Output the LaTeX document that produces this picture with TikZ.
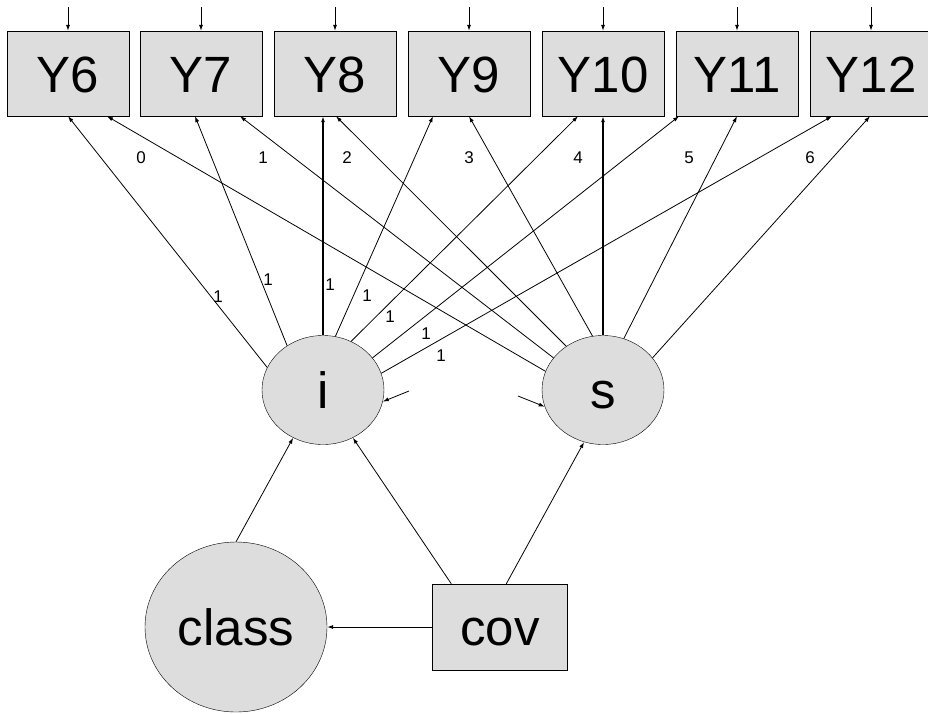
\documentclass[tikz,border=0pt]{standalone}
\usepackage{fontspec}
\setmainfont{Liberation Sans}
\usetikzlibrary{arrows.meta,shapes.geometric}
\definecolor{boxgray}{RGB}{221,221,221}

\begin{document}
\begin{tikzpicture}[x=1pt,y=-1pt,
  obs/.style={draw,fill=boxgray,minimum width=122pt,minimum height=85pt,inner sep=0pt,text height=37pt,text depth=0pt,font=\fontsize{51}{51}\selectfont},
  lat/.style={draw,ellipse,fill=boxgray,inner sep=0pt,text height=37pt,text depth=0pt,font=\fontsize{51}{51}\selectfont},
  arr/.style={-{Latex[length=6pt,width=4pt]},line width=0.8pt},
  lab/.style={font=\fontsize{17}{17}\selectfont,inner sep=0pt}]
\useasboundingbox (0,0) rectangle (928,713);
% outcomes
\foreach \n/\x in {6/68,7/201,8/335,9/469,10/603,11/737,12/871} {
  \node[obs] (Y\n) at (\x,73.5) {Y\n};
  \coordinate (e\n) at (\x,7);
  \draw[arr] (e\n) -- (Y\n.north);
}
% growth factors and covariates
\node[lat,minimum width=122pt,minimum height=109pt] (i) at (323,390) {i};
\node[lat,minimum width=122pt,minimum height=109pt] (s) at (603,390) {s};
\node[lat,minimum width=182pt,minimum height=170pt] (class) at (236,627) {class};
\node[obs,minimum width=135pt,minimum height=86pt] (cov) at (500,627) {cov};
% intercept loadings
\foreach \n/\a/\d in {6/158/0,7/129/-6,9/77/-36,10/60/-25,11/33/-58,12/16/-39}
  \draw[arr] (i.\a) -- ([xshift=\d pt]Y\n.south);
\draw[arr,line width=1.5pt] (i.90) -- ([xshift=-12pt]Y8.south);
% slope loadings
\foreach \n/\a/\d in {6/162/39,7/147/39,8/130/1,9/101/0,11/68/0,12/33/-1}
  \draw[arr] (s.\a) -- ([xshift=\d pt]Y\n.south);
\draw[arr,line width=1.5pt] (s.90) -- (Y10.south);
\foreach \k/\x in {0/141,1/263,2/347,3/469,4/578,5/689,6/810}
  \node[lab] (w\k) at (\x,158) {\k};
\foreach \k/\x/\y in {a/218/297,b/268/280,c/330/285,d/367/296,e/390/317,f/426/334,g/441/356}
  \node[lab] (o\k) at (\x,\y) {1};
% residuals
\coordinate (ri) at (409,391);
\coordinate (rs) at (518,396);
\draw[arr] (ri) -- (i.-11);
\draw[arr] (rs) -- (s.196);
% regressions
\draw[arr] (class.north) -- (i.238);
\draw[arr] ([xshift=19pt]cov.north west) -- (i.302);
\draw[arr] ([xshift=74pt]cov.north west) -- (s.250);
\draw[arr] (cov.west) -- (class.east);
\end{tikzpicture}
\end{document}
